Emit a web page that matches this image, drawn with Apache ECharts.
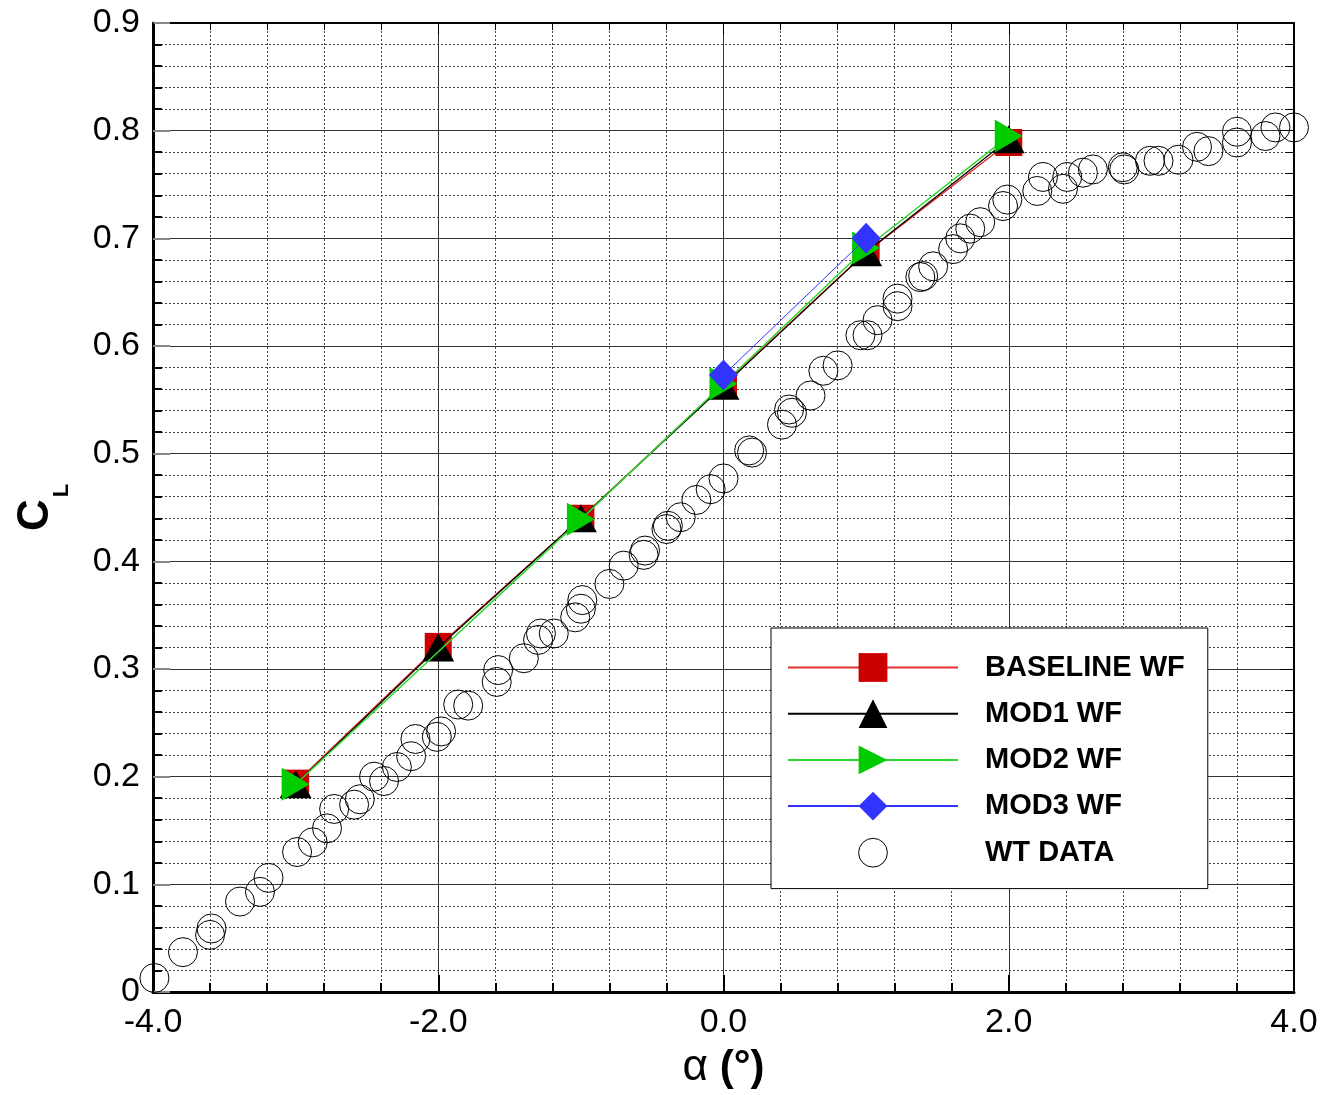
<!DOCTYPE html>
<html>
<head>
<meta charset="utf-8">
<script src="https://cdn.jsdelivr.net/npm/echarts@6/dist/echarts.min.js"></script>
<style>
  html, body { margin: 0; padding: 0; background: #fff; }
  #chart { width: 1326px; height: 1095px; }
</style>
</head>
<body>
<div id="chart"></div>
<script>
// Lift coefficient vs angle of attack: CFD configurations and wind-tunnel data

// Computed cases
const baselineAlpha = [-3, -2, -1, 0, 1, 2];
const baselineCL    = [0.194, 0.321, 0.440, 0.564, 0.687, 0.789];

const mod1Alpha = [-3, -2, -1, 0, 1, 2];
const mod1CL    = [0.193, 0.320, 0.440, 0.563, 0.687, 0.792];

const mod2Alpha = [-3, -1, 0, 1, 2];
const mod2CL    = [0.193, 0.439, 0.565, 0.691, 0.795];

const mod3Alpha = [0, 1];
const mod3CL    = [0.573, 0.700];

// Wind-tunnel measurements
const wtAlpha = [
  -3.99, -3.79, -3.60, -3.59, -3.39, -3.25, -3.19, -2.99, -2.88, -2.78,
  -2.73, -2.59, -2.55, -2.45, -2.38, -2.29, -2.19, -2.16, -2.01, -1.98,
  -1.86, -1.79, -1.59, -1.58, -1.40, -1.30, -1.28, -1.19, -1.04, -1.00,
  -0.99, -0.80, -0.70, -0.56, -0.55, -0.40, -0.39, -0.30, -0.19, -0.09,
   0.00,  0.18,  0.20,  0.41,  0.46,  0.48,  0.61,  0.70,  0.80,  0.96,
   1.01,  1.08,  1.22,  1.22,  1.38,  1.40,  1.47,  1.61,  1.66,  1.73,
   1.80,  1.96,  1.99,  2.20,  2.24,  2.38,  2.41,  2.52,  2.59,  2.80,
   2.81,  2.99,  3.05,  3.19,  3.32,  3.40,  3.60,  3.60,  3.80,  3.87,
   4.00
];
const wtCL = [
  0.013, 0.037, 0.053, 0.059, 0.084, 0.093, 0.106, 0.130, 0.139, 0.152,
  0.170, 0.174, 0.179, 0.200, 0.196, 0.209, 0.219, 0.235, 0.237, 0.242,
  0.267, 0.266, 0.288, 0.299, 0.310, 0.327, 0.333, 0.333, 0.348, 0.356,
  0.364, 0.379, 0.396, 0.406, 0.410, 0.430, 0.433, 0.441, 0.457, 0.467,
  0.477, 0.503, 0.501, 0.527, 0.541, 0.538, 0.554, 0.577, 0.582, 0.610,
  0.610, 0.624, 0.644, 0.637, 0.664, 0.665, 0.674, 0.690, 0.700, 0.709,
  0.715, 0.730, 0.736, 0.744, 0.757, 0.746, 0.757, 0.761, 0.764, 0.766,
  0.764, 0.772, 0.772, 0.773, 0.785, 0.781, 0.799, 0.789, 0.795, 0.803,
  0.803
];

// Axis ranges and tick spacing
const xMin = -4, xMax = 4, xStep = 2;
const yMin = 0, yMax = 0.9, yStep = 0.1;

const FONT = 'Liberation Sans, Arial, sans-serif';

function pairs(xs, ys) {
  return xs.map((x, i) => [x, ys[i]]);
}

const chart = echarts.init(document.getElementById('chart'), null, { renderer: 'canvas' });

const gridLineMajor = { show: true, lineStyle: { color: '#333', width: 1, type: 'solid' } };
const gridLineMinor = { show: true, lineStyle: { color: '#444', width: 1, type: [2, 2] } };

const option = {
  animation: false,
  backgroundColor: '#fff',
  grid: { left: 153, right: 32, top: 23, bottom: 98, containLabel: false },
  legend: {
    orient: 'vertical',
    left: 771,
    top: 628,
    padding: [25, 23, 21, 16],
    itemWidth: 170,
    itemHeight: 36,
    itemGap: 17.2,
    backgroundColor: '#fff',
    borderColor: '#000',
    borderWidth: 1,
    selectedMode: false,
    textStyle: {
      fontFamily: FONT,
      fontWeight: 'bold',
      fontSize: 29,
      color: '#000',
      padding: [0, 0, 0, 22]
    },
    data: [
      { name: 'BASELINE WF' },
      { name: 'MOD1 WF' },
      { name: 'MOD2 WF' },
      { name: 'MOD3 WF' },
      { name: 'WT DATA', itemStyle: { color: '#fff', borderColor: '#000', borderWidth: 1 } }
    ]
  },
  xAxis: [
    {
      type: 'value',
      position: 'bottom',
      min: xMin, max: xMax, interval: xStep,
      axisLine: { show: true, onZero: false, lineStyle: { color: '#000', width: 3 } },
      axisTick: { show: true, inside: true, length: 17, lineStyle: { color: '#000', width: 2 } },
      minorTick: { show: true, splitNumber: 5, length: 9, lineStyle: { color: '#000', width: 2 } },
      splitLine: gridLineMajor,
      minorSplitLine: gridLineMinor,
      axisLabel: {
        fontFamily: FONT, fontSize: 34, color: '#000', margin: 14,
        formatter: v => v.toFixed(1)
      },
      name: '{a|α}{b| (°)}',
      nameLocation: 'middle',
      nameGap: 54,
      nameTextStyle: {
        rich: {
          a: { fontFamily: FONT, fontSize: 44, color: '#000' },
          b: { fontFamily: FONT, fontSize: 42, fontWeight: 'bold', color: '#000' }
        }
      }
    },
    {
      type: 'value',
      position: 'top',
      min: xMin, max: xMax, interval: xStep,
      axisLine: { show: true, onZero: false, lineStyle: { color: '#000', width: 2 } },
      axisTick: { show: true, inside: true, length: 12, lineStyle: { color: '#000', width: 1 } },
      minorTick: { show: true, splitNumber: 5, length: 7, lineStyle: { color: '#000', width: 1 } },
      splitLine: { show: false },
      axisLabel: { show: false }
    }
  ],
  yAxis: [
    {
      type: 'value',
      position: 'left',
      min: yMin, max: yMax, interval: yStep,
      axisLine: { show: true, onZero: false, lineStyle: { color: '#000', width: 3 } },
      axisTick: { show: true, inside: true, length: 17, lineStyle: { color: '#888', width: 2 } },
      minorTick: { show: true, splitNumber: 5, length: 9, lineStyle: { color: '#000', width: 2 } },
      splitLine: gridLineMajor,
      minorSplitLine: gridLineMinor,
      axisLabel: {
        fontFamily: FONT, fontSize: 34, color: '#000', margin: 13,
        formatter: v => (v === 0 ? '0' : v.toFixed(1))
      },
      name: '{c|C}{l|L}',
      nameLocation: 'middle',
      nameRotate: 90,
      nameGap: 94,
      nameTextStyle: {
        rich: {
          c: { fontFamily: FONT, fontSize: 44, fontWeight: 'bold', color: '#000', lineHeight: 46 },
          l: { fontFamily: FONT, fontSize: 22, fontWeight: 'bold', color: '#000', verticalAlign: 'bottom', lineHeight: 46, padding: [0, 0, -14, 2] }
        }
      }
    },
    {
      type: 'value',
      position: 'right',
      min: yMin, max: yMax, interval: yStep,
      axisLine: { show: true, onZero: false, lineStyle: { color: '#000', width: 2 } },
      axisTick: { show: true, inside: true, length: 14, lineStyle: { color: '#000', width: 1 } },
      minorTick: { show: true, splitNumber: 5, length: 9, lineStyle: { color: '#000', width: 1 } },
      splitLine: { show: false },
      axisLabel: { show: false }
    }
  ],
  series: [
    {
      name: 'WT DATA',
      type: 'line',
      data: pairs(wtAlpha, wtCL),
      symbol: 'circle',
      symbolSize: 29,
      showSymbol: true,
      lineStyle: { opacity: 0, width: 0 },
      itemStyle: { color: 'rgba(0,0,0,0)', borderColor: '#000', borderWidth: 1 },
      emphasis: { disabled: true },
      z: 2
    },
    {
      name: 'BASELINE WF',
      type: 'line',
      data: pairs(baselineAlpha, baselineCL),
      symbol: 'rect',
      symbolSize: 27,
      lineStyle: { color: '#e03030', width: 1.5 },
      itemStyle: { color: '#cc0000' },
      emphasis: { disabled: true },
      z: 3
    },
    {
      name: 'MOD1 WF',
      type: 'line',
      data: pairs(mod1Alpha, mod1CL),
      symbol: 'triangle',
      symbolSize: [32, 28],
      lineStyle: { color: '#000', width: 1.2 },
      itemStyle: { color: '#000' },
      emphasis: { disabled: true },
      z: 4
    },
    {
      name: 'MOD2 WF',
      type: 'line',
      data: pairs(mod2Alpha, mod2CL),
      symbol: 'triangle',
      symbolSize: [33, 28],
      symbolRotate: -90,
      lineStyle: { color: '#2ed82e', width: 1.5 },
      itemStyle: { color: '#00cc00' },
      emphasis: { disabled: true },
      z: 5
    },
    {
      name: 'MOD3 WF',
      type: 'line',
      data: pairs(mod3Alpha, mod3CL),
      symbol: 'diamond',
      symbolSize: [29, 31],
      lineStyle: { color: '#3333ff', width: 1 },
      itemStyle: { color: '#3333ff' },
      emphasis: { disabled: true },
      z: 6
    }
  ]
};

chart.setOption(option);
</script>
</body>
</html>
